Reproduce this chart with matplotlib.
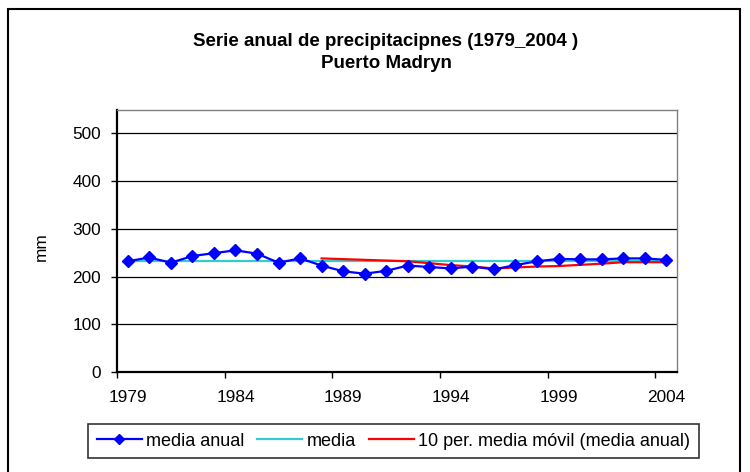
import numpy as np
import matplotlib
matplotlib.use("Agg")
import matplotlib.pyplot as plt
from matplotlib.patches import Rectangle
from matplotlib.ticker import FixedLocator

plt.rcParams["font.family"] = ["Liberation Sans", "DejaVu Sans"]

# annual precipitation, Puerto Madryn
years = list(range(1979, 2005))
media_anual = [232, 240, 229, 243, 249, 255, 248, 229, 238, 223,
               211, 206, 212, 223, 220, 217, 221, 215, 224, 232,
               237, 236, 236, 238, 238, 235]
media = 232
# 10-period moving average, starts at 1988
ma_years = list(range(1988, 2005))
media_movil = [238, 236.5, 235, 233.5, 232, 228, 224, 221, 217,
               219, 221, 222, 224.5, 227, 230, 230, 230]
tick_years = [1979, 1984, 1989, 1994, 1999, 2004]

W, H = 750, 472
fig = plt.figure(figsize=(W / 100, H / 100), dpi=100)
ax = fig.add_axes([117 / W, 1 - 372 / H, 560 / W, 262 / H])

x = np.arange(len(years))
x_ma = np.array([years.index(y) for y in ma_years])

l1, = ax.plot(x, media_anual, color="#0000FF", lw=1.6, marker="D",
              markersize=6, label="media anual", zorder=4)
l2, = ax.plot(x, [media] * len(years), color="#33CCCC", lw=1.6,
              label="media", zorder=3)
l3, = ax.plot(x_ma, media_movil, color="#FF0000", lw=1.6,
              label="10 per. media móvil (media anual)", zorder=3)

ax.set_xlim(-0.5, len(years) - 0.5)
ax.set_ylim(0, 549)
ax.set_yticks(range(0, 501, 100))
ax.yaxis.grid(True, color="black", lw=0.9)
ax.set_axisbelow(True)

# tick marks on category boundaries, labels at category centres
ax.xaxis.set_major_locator(FixedLocator(np.arange(-0.5, len(years) - 1, 5)))
ax.set_xticklabels([])
ax.xaxis.set_minor_locator(FixedLocator([years.index(y) for y in tick_years]))
ax.set_xticklabels([str(y) for y in tick_years], minor=True)
ax.tick_params(axis="x", which="minor", length=0, pad=13, labelsize=12.4)
ax.tick_params(axis="x", which="major", length=4.5, width=1, direction="out")
ax.tick_params(axis="y", length=4.5, width=1, pad=7, labelsize=12.4)

for side in ("left", "bottom"):
    ax.spines[side].set_linewidth(1.6)
    ax.spines[side].set_color("black")
for side in ("top", "right"):
    ax.spines[side].set_linewidth(1)
    ax.spines[side].set_color("#808080")

fig.text(41 / W, 1 - 247 / H, "mm", rotation=90, ha="center", va="center",
         fontsize=12.4)

fig.text(386 / W, 1 - 41 / H, "Serie anual de precipitacipnes (1979_2004 )",
         ha="center", va="center", fontsize=13.5, fontweight="bold")
fig.text(386 / W, 1 - 63 / H, "Puerto Madryn", ha="center", va="center",
         fontsize=13.5, fontweight="bold")

leg = fig.legend(handles=[l1, l2, l3], loc="center",
                 bbox_to_anchor=(393.5 / W, 1 - 441 / H), ncol=3,
                 fontsize=13, frameon=True, fancybox=False, edgecolor="black",
                 handlelength=2.5, handletextpad=0.25, columnspacing=0.7,
                 borderpad=0.45, borderaxespad=0, markerscale=0.8)
leg.get_frame().set_linewidth(1.2)

# chart area border (runs off the bottom of the picture)
fig.patches.append(Rectangle((8 / W, -0.1), 732 / W, 1.1 - 9 / H,
                             transform=fig.transFigure, fill=False,
                             edgecolor="black", lw=1.5))

fig.savefig("out.png", dpi=100)
